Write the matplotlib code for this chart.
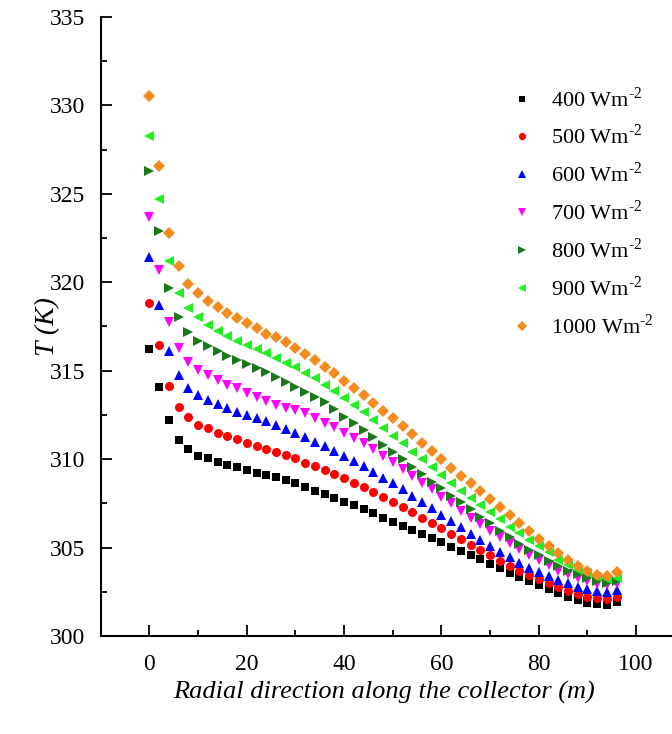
import numpy as np
import matplotlib
matplotlib.use("Agg")
import matplotlib.pyplot as plt
from matplotlib.ticker import MultipleLocator

plt.rcParams['font.family'] = ['Liberation Serif', 'DejaVu Serif']
plt.rcParams['mathtext.fontset'] = 'custom'
plt.rcParams['mathtext.rm'] = 'Liberation Serif'

# positions le long du collecteur (m), un point tous les 2 m
r = np.arange(0, 97, 2)

# températures (K)
t400 = [316.2, 314.1, 312.2, 311.1, 310.6, 310.2, 310.05, 309.85, 309.67, 309.55,
        309.4, 309.23, 309.13, 308.98, 308.82, 308.63, 308.44, 308.21, 308.01, 307.78,
        307.59, 307.4, 307.16, 306.94, 306.69, 306.46, 306.22, 305.99, 305.77, 305.52,
        305.3, 305.05, 304.82, 304.58, 304.34, 304.07, 303.83, 303.58, 303.32, 303.11,
        302.88, 302.64, 302.41, 302.19, 302.04, 301.88, 301.79, 301.75, 301.94]
t500 = [318.84, 316.45, 314.13, 312.96, 312.36, 311.93, 311.74, 311.45, 311.31, 311.12,
        310.93, 310.74, 310.55, 310.42, 310.23, 310.04, 309.8, 309.61, 309.38, 309.14,
        308.91, 308.67, 308.44, 308.16, 307.87, 307.59, 307.31, 306.99, 306.69, 306.4,
        306.09, 305.77, 305.47, 305.14, 304.86, 304.58, 304.26, 303.96, 303.69, 303.45,
        303.2, 302.98, 302.75, 302.54, 302.35, 302.22, 302.13, 302.07, 302.19]
t600 = [321.44, 318.71, 316.11, 314.75, 314.0, 313.62, 313.34, 313.1, 312.87, 312.68,
        312.49, 312.31, 312.15, 311.93, 311.7, 311.46, 311.23, 310.98, 310.74, 310.48,
        310.19, 309.91, 309.61, 309.29, 308.95, 308.63, 308.29, 307.93, 307.59, 307.22,
        306.84, 306.5, 306.14, 305.77, 305.43, 305.09, 304.77, 304.45, 304.14, 303.86,
        303.64, 303.39, 303.17, 302.98, 302.79, 302.64, 302.54, 302.5, 302.6]
t700 = [323.7, 320.69, 317.77, 316.26, 315.5, 315.04, 314.75, 314.47, 314.19, 314.0,
        313.75, 313.53, 313.3, 313.06, 312.9, 312.78, 312.59, 312.31, 312.06, 311.8,
        311.5, 311.22, 310.9, 310.56, 310.19, 309.82, 309.44, 309.06, 308.67, 308.29,
        307.87, 307.5, 307.08, 306.69, 306.31, 305.94, 305.58, 305.24, 304.9, 304.58,
        304.3, 304.01, 303.7, 303.48, 303.28, 303.1, 302.95, 302.88, 302.95]
t800 = [326.3, 322.91, 319.65, 318.05, 317.2, 316.69, 316.39, 316.13, 315.83, 315.6,
        315.36, 315.13, 314.9, 314.66, 314.38, 314.1, 313.81, 313.53, 313.25, 312.85,
        312.4, 312.02, 311.65, 311.27, 310.8, 310.42, 309.99, 309.57, 309.16, 308.72,
        308.35, 307.93, 307.56, 307.16, 306.74, 306.37, 305.95, 305.58, 305.2, 304.86,
        304.58, 304.26, 303.95, 303.7, 303.5, 303.3, 303.12, 303.02, 303.1]
t900 = [328.26, 324.69, 321.2, 319.37, 318.52, 318.01, 317.58, 317.26, 316.96, 316.69,
        316.45, 316.22, 315.98, 315.73, 315.43, 315.19, 314.85, 314.57, 314.19, 313.85,
        313.47, 313.06, 312.65, 312.21, 311.78, 311.33, 310.9, 310.42, 309.99, 309.54,
        309.1, 308.67, 308.21, 307.82, 307.4, 306.99, 306.59, 306.18, 305.8, 305.43,
        305.09, 304.77, 304.3, 304.0, 303.75, 303.55, 303.35, 303.22, 303.3]
t1000 = [330.5, 326.57, 322.8, 320.9, 319.9, 319.37, 318.96, 318.58, 318.24, 317.96,
         317.7, 317.4, 317.1, 316.9, 316.6, 316.26, 315.94, 315.6, 315.22, 314.85,
         314.4, 314.04, 313.6, 313.2, 312.74, 312.3, 311.87, 311.4, 310.93, 310.46,
         310.0, 309.5, 309.06, 308.63, 308.2, 307.73, 307.3, 306.84, 306.4, 305.95,
         305.5, 305.1, 304.68, 304.3, 303.96, 303.67, 303.45, 303.4, 303.6]

irradiances = [400, 500, 600, 700, 800, 900, 1000]
series = [t400, t500, t600, t700, t800, t900, t1000]
couleurs = ['black', '#ff0000', '#0000ff', '#ff00ff', '#1a7a1a', '#22ee22', '#f58a1f']
marqueurs = ['s', 'o', '^', 'v', '>', '<', 'D']
tailles = [6, 6.5, 7, 7, 7, 7, 6]

fig = plt.figure(figsize=(6.72, 7.34), dpi=100)
ax = fig.add_axes([0.150, 0.1335, 0.869, 0.8435])

for g, t, c, m, s in zip(irradiances, series, couleurs, marqueurs, tailles):
    ax.plot(r, t, linestyle='none', marker=m, color=c, markersize=s,
            markeredgewidth=0, label=str(g) + r' Wm$^{\text{-2}}$')

ax.set_xlim(-10, 110)
ax.set_ylim(300, 335)
ax.xaxis.set_major_locator(MultipleLocator(20))
ax.xaxis.set_minor_locator(MultipleLocator(10))
ax.yaxis.set_major_locator(MultipleLocator(5))
ax.yaxis.set_minor_locator(MultipleLocator(2.5))
ax.set_xticks([0, 20, 40, 60, 80, 100])

ax.spines['top'].set_visible(False)
ax.spines['right'].set_visible(False)
for sp in ['left', 'bottom']:
    ax.spines[sp].set_linewidth(1.5)
ax.tick_params(which='both', direction='in', width=1.3, labelsize=17)
ax.tick_params(which='major', length=8)
ax.tick_params(which='minor', length=4)
ax.tick_params(axis='x', pad=13)
ax.tick_params(axis='y', pad=11)

ax.set_xlabel('Radial direction along the collector (m)', fontsize=19,
              fontstyle='italic')
ax.set_ylabel('T (K)', fontsize=20, fontstyle='italic')
ax.xaxis.set_label_coords(0.485, -0.072)
ax.yaxis.set_label_coords(-0.07, 0.5)

fig.legend(loc='upper left', bbox_to_anchor=(0.744, 0.897), frameon=False,
           fontsize=16, handlelength=1, handletextpad=0.8, labelspacing=0.6,
           borderpad=0, markerscale=0.8)

fig.savefig('out.png', dpi=100)
